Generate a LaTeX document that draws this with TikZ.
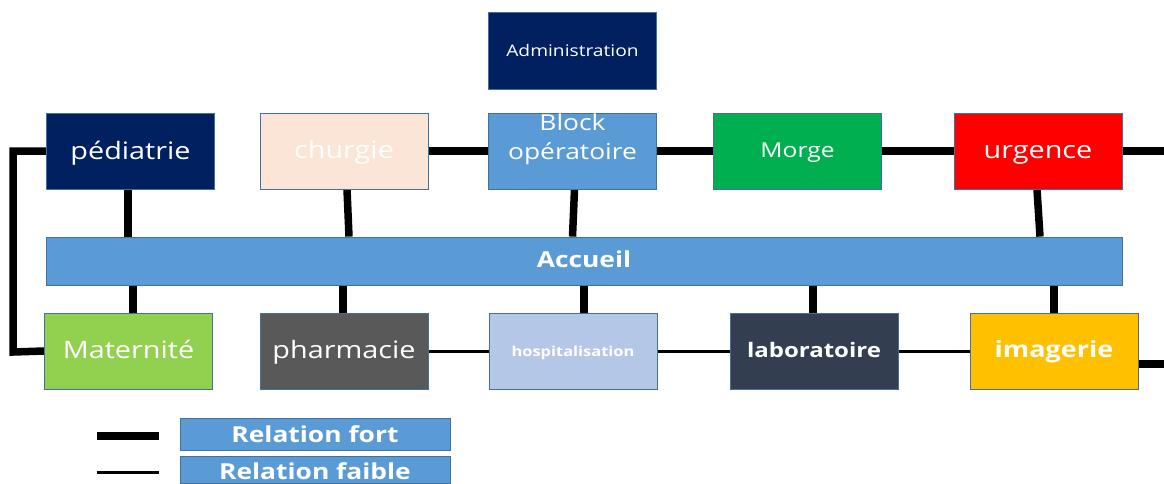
\documentclass[tikz,border=0pt]{standalone}
\usepackage{fontspec}
\setmainfont{Open Sans}[FakeStretch=1.2]
\usetikzlibrary{backgrounds}
\definecolor{navy}{HTML}{002060}
\definecolor{peach}{HTML}{FBE5D6}
\definecolor{midblue}{HTML}{5B9BD5}
\definecolor{mgreen}{HTML}{00B050}
\definecolor{lgreen}{HTML}{92D050}
\definecolor{dgray}{HTML}{595959}
\definecolor{lblue}{HTML}{B4C7E7}
\definecolor{slate}{HTML}{333F50}
\definecolor{gold}{HTML}{FFC000}
\definecolor{edgeblue}{HTML}{41719C}
\newcommand{\fs}[1]{\fontsize{#1}{#1}\selectfont}
\begin{document}
\begin{tikzpicture}[x=1pt,y=-1pt,
  box/.style={draw=edgeblue,line width=0.8pt,minimum width=168pt,minimum height=76pt,inner sep=0pt,text=white,font=\fs{24},text height=19pt,text depth=4pt},
  strong/.style={line width=7.5pt,black,line join=miter},
  weak/.style={line width=3pt,black},
  legbox/.style={draw=edgeblue,line width=0.8pt,fill=midblue,minimum width=270pt,inner sep=0pt,text=white,font=\fs{22}\bfseries,text height=20pt,text depth=4pt}]
\useasboundingbox (0,0) rectangle (1164,483);
\coordinate (lt) at (13,151);
\coordinate (lb) at (13,352);
\coordinate (rtop) at (1170,151);
\coordinate (rbot) at (1170,364);
% boxes
\node[box,fill=navy,minimum height=77pt,font=\fs{16},text height=15pt] (adm) at (572.5,50.5) {Administration};
\node[box,fill=navy,text height=20pt] (ped) at (130.5,151) {pédiatrie};
\node[box,fill=peach] (chu) at (344,151) {churgie};
\node[box,fill=midblue] (blk) at (572.5,151) {};
\node[text=white,align=center,inner sep=0pt,font=\fontsize{22}{29}\selectfont] (blkt) at (572.5,139) {Block\\opératoire};
\node[box,fill=mgreen,font=\fs{20.5},text height=16pt] (mor) at (797.5,151) {Morge};
\node[box,fill=red] (urg) at (1038,151) {urgence};
\node[box,fill=midblue,minimum width=1076pt,minimum height=48pt,font=\fs{22}\bfseries,text height=16pt] (acc) at (584,261) {Accueil};
\node[box,fill=lgreen] (mat) at (128.5,351) {Maternité};
\node[box,fill=dgray] (pha) at (344,351) {pharmacie};
\node[box,fill=lblue,font=\fs{13.7}\bfseries,text height=14pt] (hos) at (573,351) {hospitalisation};
\node[box,fill=slate,font=\fs{20}\bfseries,text height=16pt] (lab) at (814,351) {laboratoire};
\node[box,fill=gold,font=\fs{22.5}\bfseries,text height=16pt] (ima) at (1054,351) {imagerie};
% legend
\node[legbox,minimum height=32pt] (lf) at (315,434) {Relation fort};
\node[legbox,minimum height=27pt,anchor=north,text height=23pt] (lw) at (315,456) {Relation faible};
\coordinate (l1a) at (97,436); \coordinate (l1b) at (159,436);
\coordinate (l2a) at (97,472); \coordinate (l2b) at (159,472);
\draw[strong] (l1a) -- (l1b);
\draw[weak] (l2a) -- (l2b);
% connectors behind boxes
\begin{scope}[on background layer]
\draw[strong] (ped.west) -- (lt) -- (lb) -- (mat.west);
\draw[strong] ([xshift=-2.5pt]ped.south) -- ([xshift=-2.5pt]ped.south |- acc.north);
\draw[strong] ([xshift=4.5pt]mat.north) -- ([xshift=4.5pt]mat.north |- acc.south);
\draw[strong] ([xshift=3pt]chu.south) -- ([xshift=5pt]chu.south |- acc.north);
\draw[strong] (chu.east) -- (blk.west);
\draw[strong] ([xshift=2pt]blk.south) -- ([xshift=0pt]blk.south |- acc.north);
\draw[strong] (blk.east) -- (mor.west);
\draw[strong] (mor.east) -- (urg.west);
\draw[strong] (urg.east) -- (rtop);
\draw[strong] ([xshift=-1pt]urg.south) -- ([xshift=2pt]urg.south |- acc.north);
\draw[strong] ([xshift=-1pt]pha.north) -- ([xshift=-1pt]pha.north |- acc.south);
\draw[strong] ([xshift=11pt]hos.north) -- ([xshift=11pt]hos.north |- acc.south);
\draw[strong] ([xshift=-1pt]lab.north) -- ([xshift=-1pt]lab.north |- acc.south);
\draw[strong] (ima.north) -- (ima.north |- acc.south);
\draw[weak] (pha.east) -- (hos.west);
\draw[weak] (hos.east) -- (lab.west);
\draw[weak] (lab.east) -- (ima.west);
\draw[strong] (ima.east |- rbot) -- (rbot);
\end{scope}
\end{tikzpicture}
\end{document}
